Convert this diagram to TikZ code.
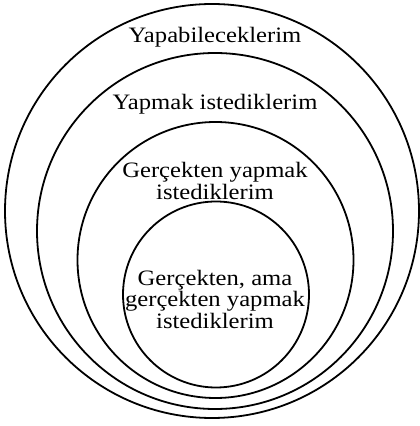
\documentclass[tikz,border=0pt]{standalone}
\usepackage{fontspec}
\setmainfont[FakeStretch=1.12]{Liberation Serif}
\usepackage{tikz}
\usetikzlibrary{positioning}

\begin{document}
\begin{tikzpicture}[
    x=1pt,y=1pt,
    ring/.style={circle,draw,line width=1.8pt,inner sep=0pt},
    ringlabel/.style={font=\fontsize{22}{21.5}\selectfont,align=center,inner sep=0pt}
]
    \useasboundingbox (0,0) rectangle (420,426);
    \node[ring,minimum size=414pt] (r1) at (212,215) {};
    \node[ring,minimum size=356pt] (r2) at (215,195) {};
    \node[ring,minimum size=276pt] (r3) at (215.5,166) {};
    \node[ring,minimum size=186pt] (r4) at (216,131.5) {};

    \node[ringlabel,anchor=base] (l1) at (215,383) {Yapabileceklerim};
    \node[ringlabel,anchor=base] (l2) at (215,316) {Yapmak istediklerim};
    \node[ringlabel] (l3) at (215,245) {Gerçekten yapmak\\istediklerim};
    \node[ringlabel] (l4) at (215,127) {Gerçekten, ama\\gerçekten yapmak\\istediklerim};
\end{tikzpicture}
\end{document}
